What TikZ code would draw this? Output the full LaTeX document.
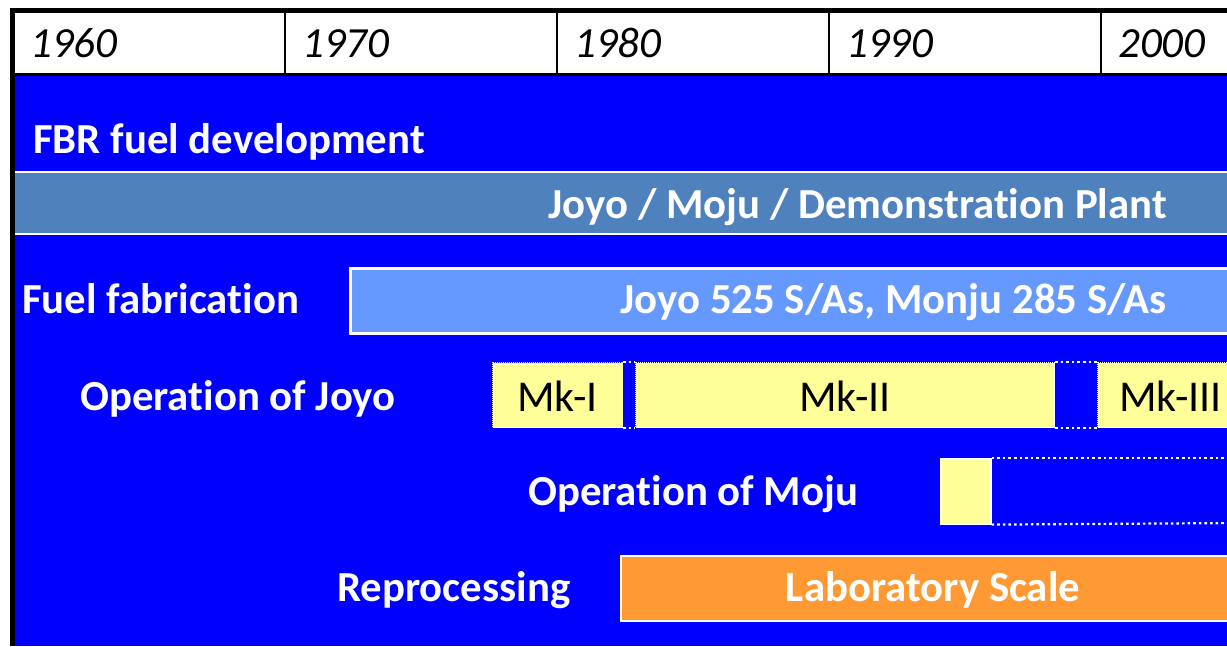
\documentclass[tikz,border=0pt]{standalone}
\usepackage{fontspec}
\setmainfont[RawFeature=-liga]{Carlito}
\definecolor{bgblue}{HTML}{0000FF}
\definecolor{bandblue}{HTML}{4F81BD}
\definecolor{fabblue}{HTML}{6699FF}
\definecolor{mkyellow}{HTML}{FFFF99}
\definecolor{laborange}{HTML}{FF9933}
\begin{document}
\begin{tikzpicture}[x=1pt,y=-1pt,
  year/.style={anchor=base west,inner sep=0pt,font=\fontsize{43}{50}\selectfont\itshape},
  lbl/.style={inner sep=0pt,text=white,font=\fontsize{42.8}{50}\selectfont\bfseries},
  mklbl/.style={inner sep=0pt,text=black,font=\fontsize{44}{50}\selectfont},
  bar/.style={anchor=north west,inner sep=0pt,minimum height=#1},
  bar/.default=65pt,
  dotline/.style={white,line width=2.2pt,dash pattern=on 2.6pt off 3pt},
]
\useasboundingbox (0,0) rectangle (1227,646);
\clip (0,0) rectangle (1227,646);
\fill[white] (0,0) rectangle (1227,646);
\fill[bgblue] (15,75) rectangle (1227,646);
% header
\fill[black] (10,8) rectangle (1227,13);
\fill[black] (10,8) rectangle (15,646);
\fill[black] (15,73) rectangle (1227,76);
\foreach \xx in {284,556,828,1100} {\fill[black] (\xx,13) rectangle (\xx+2,73);}
\node[year] (y60) at (30,57) {1960};
\node[year] (y70) at (302,57) {1970};
\node[year] (y80) at (574,57) {1980};
\node[year] (y90) at (846,57) {1990};
\node[year] (y00) at (1118,57) {2000};
% FBR
\node[lbl,anchor=base west] (fbr) at (33,153) {FBR fuel development};
\node[bar=62pt,fill=bandblue,minimum width=1215pt] (band) at (15,172) {};
\draw[white,line width=2pt] (band.north west) -- (band.north east);
\draw[white,line width=2pt] (band.south west) -- (band.south east);
\node[lbl,anchor=base east] (demo) at (1167,218) {Joyo / Moju / Demonstration Plant};
% fabrication
\node[lbl,anchor=base west] (fablbl) at (22,313) {Fuel fabrication};
\node[bar,fill=fabblue,draw=white,line width=2.5pt,minimum width=950pt] (fab) at (349,267) {};
\node[lbl,anchor=base east] (fabtxt) at (1167,313) {Joyo 525 S/As, Monju 285 S/As};
% Joyo
\node[lbl,anchor=base west] (joyolbl) at (80,410) {Operation of Joyo};
\node[bar,fill=mkyellow,draw=white,line width=1pt,densely dotted,minimum width=130pt] (mk1) at (492,362) {};
\node[bar,fill=mkyellow,draw=white,line width=1pt,densely dotted,minimum width=419pt] (mk2) at (635,362) {};
\node[bar,fill=mkyellow,draw=white,line width=1pt,densely dotted,minimum width=300pt] (mk3) at (1097,362) {};
\draw[dotline] (mk1.north east) -- (mk2.north west);
\draw[dotline] (mk1.south east) -- (mk2.south west);
\draw[dotline] (mk2.north east) -- (mk3.north west);
\draw[dotline] (mk2.south east) -- (mk3.south west);
\node[mklbl,anchor=base] (mk1t) at (mk1.center |- 0,411) {Mk-I};
\node[mklbl,anchor=base] (mk2t) at (mk2.center |- 0,411) {Mk-II};
\node[mklbl,anchor=base west] (mk3t) at (1119,411) {Mk-III};
% Monju
\node[lbl,anchor=base west] (monjulbl) at (528,505) {Operation of Moju};
\node[bar,fill=mkyellow,draw=white,line width=1.6pt,minimum width=50pt] (monju) at (940,458) {};
\coordinate (mtop) at (1240,458);
\coordinate (mbot) at (1240,523);
\draw[dotline] (monju.north east) -- (mtop);
\draw[dotline] (monju.south east) -- (mbot);
% Reprocessing
\node[lbl,anchor=base west] (replbl) at (337,601) {Reprocessing};
\node[bar,fill=laborange,draw=white,line width=1.6pt,minimum width=700pt] (lab) at (620,555) {};
\node[lbl,anchor=base] (labtxt) at (933,601) {Laboratory Scale};
\end{tikzpicture}
\end{document}
